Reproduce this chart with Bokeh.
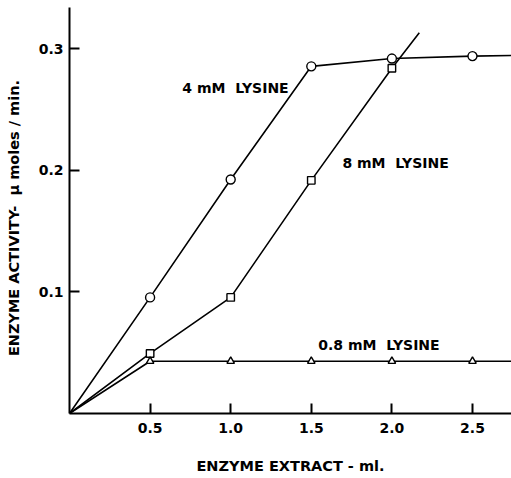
from bokeh.plotting import figure
from bokeh.models import FixedTicker, Label, Range1d
from bokeh.embed import file_html
from bokeh.resources import INLINE

# ---- data ----
x_ml = [0.5, 1.0, 1.5, 2.0, 2.5]
lys4_y = [0.0955, 0.1925, 0.2856, 0.292, 0.294]
lys8_x = [0.5, 1.0, 1.5, 2.0]
lys8_y = [0.0494, 0.0955, 0.1918, 0.284]
lys08_y = [0.043, 0.043, 0.043, 0.043, 0.043]

# drawn lines (start at the origin, run on past the last point)
lys4_line_x = [0, 0.5, 1.0, 1.5, 2.0, 2.5, 2.75]
lys4_line_y = [0, 0.0955, 0.1925, 0.2856, 0.292, 0.294, 0.2945]
lys8_line_x = [0, 0.5, 1.0, 1.5, 2.0, 2.17]
lys8_line_y = [0, 0.0494, 0.0955, 0.1918, 0.284, 0.3133]
lys08_line_x = [0, 0.5, 1.0, 1.5, 2.0, 2.5, 2.75]
lys08_line_y = [0, 0.043, 0.043, 0.043, 0.043, 0.043, 0.043]

x_ticks = [0.5, 1.0, 1.5, 2.0, 2.5]
x_tick_labels = ["0.5", "1.0", "1.5", "2.0", "2.5"]
y_ticks = [0.1, 0.2, 0.3]
y_tick_labels = ["0.1", "0.2", "0.3"]

FONT = "DejaVu Sans"

p = figure(width=511, height=478, output_backend="svg", toolbar_location=None,
           x_range=Range1d(0, 2.742), y_range=Range1d(0, 0.334),
           min_border_left=69, min_border_right=0, min_border_top=7,
           min_border_bottom=65)
p.outline_line_color = None
p.grid.visible = False
p.background_fill_color = "white"
p.border_fill_color = "white"

for ax in (p.xaxis[0], p.yaxis[0]):
    ax.axis_line_width = 2
    ax.axis_line_color = "black"
    ax.major_tick_line_width = 2
    ax.major_tick_in = 10
    ax.major_tick_out = 0
    ax.minor_tick_line_color = None
    ax.major_label_text_font = FONT
    ax.major_label_text_font_style = "bold"
    ax.major_label_text_font_size = "14px"
    ax.major_label_text_color = "black"
    ax.axis_label_text_font = FONT
    ax.axis_label_text_font_style = "bold"
    ax.axis_label_text_font_size = "14.5px"
    ax.axis_label_text_color = "black"

p.xaxis.ticker = FixedTicker(ticks=x_ticks)
p.xaxis.major_label_overrides = dict(zip(x_ticks, x_tick_labels))
p.xaxis.major_label_standoff = 9
p.xaxis.axis_label = "ENZYME EXTRACT - ml."
p.xaxis.axis_label_standoff = 22

p.yaxis.ticker = FixedTicker(ticks=y_ticks)
p.yaxis.major_label_overrides = dict(zip(y_ticks, y_tick_labels))
p.yaxis.major_label_standoff = 6
p.yaxis.axis_label = "ENZYME ACTIVITY-\u00a0 \u03bc moles / min.\u00a0\u00a0\u00a0"
p.yaxis.axis_label_standoff = 14

LW = 1.6
p.line(lys4_line_x, lys4_line_y, line_color="black", line_width=LW)
p.line(lys8_line_x, lys8_line_y, line_color="black", line_width=LW)
p.line(lys08_line_x, lys08_line_y, line_color="black", line_width=LW)

p.scatter(x_ml, lys4_y, marker="circle", size=9, fill_color="white",
          line_color="black", line_width=1.4)
p.scatter(lys8_x, lys8_y, marker="square", size=7.5, fill_color="white",
          line_color="black", line_width=1.4)
p.scatter(x_ml, lys08_y, marker="triangle", size=7.5, fill_color="white",
          line_color="black", line_width=1.4)

def lab(x, y, t):
    p.add_layout(Label(x=x, y=y, text=t, text_font=FONT, text_font_style="bold",
                       text_font_size="14px", text_color="black",
                       text_baseline="middle", text_align="left"))

lab(0.700, 0.2675, "4 mM\u00a0 LYSINE")
lab(1.693, 0.2058, "8 mM\u00a0 LYSINE")
lab(1.543, 0.0560, "0.8 mM\u00a0 LYSINE")

open("out.html", "w").write(file_html(p, INLINE))
